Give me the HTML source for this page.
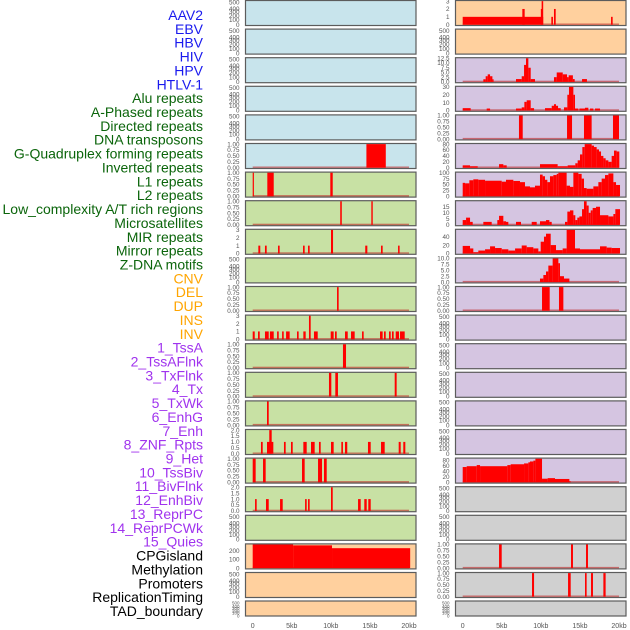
<!DOCTYPE html>
<html><head><meta charset="utf-8">
<style>
html,body{margin:0;padding:0;background:#fff;}
svg{display:block;font-family:"Liberation Sans",sans-serif;}
</style></head>
<body>
<svg id="chart" width="630" height="630" viewBox="0 0 630 630" xmlns="http://www.w3.org/2000/svg"></svg>
<script>
// ---------- data ----------
const labelNames = ["AAV2","EBV","HBV","HIV","HPV","HTLV-1","Alu repeats","A-Phased repeats","Directed repeats","DNA transposons","G-Quadruplex forming repeats","Inverted repeats","L1 repeats","L2 repeats","Low_complexity A/T rich regions","Microsatellites","MIR repeats","Mirror repeats","Z-DNA motifs","CNV","DEL","DUP","INS","INV","1_TssA","2_TssAFlnk","3_TxFlnk","4_Tx","5_TxWk","6_EnhG","7_Enh","8_ZNF_Rpts","9_Het","10_TssBiv","11_BivFlnk","12_EnhBiv","13_ReprPC","14_ReprPCWk","15_Quies","CPGisland","Methylation","Promoters","ReplicationTiming","TAD_boundary"];
const labelGroups = [0,0,0,0,0,0,1,1,1,1,1,1,1,1,1,1,1,1,1,2,2,2,2,2,3,3,3,3,3,3,3,3,3,3,3,3,3,3,3,4,4,4,4,4];
const xTickValues = [0,5,10,15,20];
const xTickLabels = ["0","5kb","10kb","15kb","20kb"];
const ticks01 = [0,0.25,0.5,0.75,1];
const ticks01Labels = ["0.00","0.25","0.50","0.75","1.00"];
const ticks3 = [0,1,2,3];
const ticks2 = [0,0.5,1,1.5,2];
const ticks2Labels = ["0.0","0.5","1.0","1.5","2.0"];
const emptyTickLabels = ["0","100","200","300","400","500"];
const emptyTickFrac = [0,0.2,0.38,0.55,0.68,0.96];

// left column segments [startKb, endKb, value]
const segL5 = [[14.55,17.03,1]];
const segL6 = [[0,0.12,1],[1.87,2.69,1],[9.93,10.24,1]];
const segL7 = [[11.2,11.4,1],[15.18,15.36,1]];
const segL8 = [[0.72,0.97,1],[1.57,1.79,1],[3.24,3.45,1],[6.44,6.65,1],[7.08,7.29,1],[10.02,10.28,3],[14.4,14.67,1],[16.42,16.63,1],[18.6,18.8,1]];
const segL10 = [[10.79,11.0,1]];
const segL11 = [[0,0.26,1],[0.68,0.9,1],[1.57,2.05,1],[2.2,2.69,1],[3.12,3.33,1],[3.76,3.97,1],[4.27,4.73,1],[5.67,5.88,1],[6.48,6.78,1],[7.2,7.42,3],[7.84,8.32,1],[9.98,10.36,1],[10.53,10.75,1],[11.81,12.16,1],[12.58,13.05,1],[13.99,14.2,1],[16.29,16.63,1],[16.8,17.02,1],[17.44,17.66,1],[17.82,18.04,1],[18.3,18.72,1],[18.85,19.45,1]];
const segL12 = [[11.55,11.94,1]];
const segL13 = [[9.76,10.06,1],[10.57,10.91,1],[18.17,18.42,1]];
const segL14 = [[1.83,2.05,1]];
const segL15 = [[1.06,1.28,1],[1.83,2.64,1],[2.12,2.43,2],[4.0,4.22,1],[4.9,5.12,1],[6.48,6.91,1],[7.46,7.93,1],[8.48,8.7,1],[10.02,10.36,1],[11.34,11.55,1],[11.81,12.1,1],[14.75,15.1,1],[16.42,16.89,1],[18.68,18.94,1],[19.27,19.53,1]];
const segL16 = [[0,0.38,1],[1.32,1.66,1],[6.31,6.65,1],[8.36,8.87,1],[9.12,9.47,1]];
const segL17 = [[0.3,0.51,1],[1.7,2.05,1],[3.5,3.84,1],[6.7,6.91,1],[7.08,7.29,1],[10.02,10.24,2],[13.48,13.82,1],[14.28,14.59,1],[14.79,15.1,1]];
const segL19 = [[0,5.17,275],[5.17,10.15,265],[10.15,20.15,232]];

// right column segments
const segR0 = [[0,10.3,1],[7.63,7.93,2],[10.0,10.1,2],[10.1,10.3,3],[11.34,11.55,1],[11.68,11.9,2],[18.98,19.19,1]];
const segR2 = [[2.64,2.94,1.4],[2.94,3.2,3],[3.2,3.5,4],[3.5,3.8,3],[3.8,3.92,1.4],[6.82,7.55,1.5],[7.55,7.85,3],[7.85,8.1,9],[8.1,8.4,12.5],[8.4,8.7,7.5],[8.7,9.25,1.5],[11.68,12.03,2.5],[12.03,12.8,5],[12.8,13.35,4],[13.35,13.56,2.5],[13.56,14.1,3.5],[14.1,14.33,1.5],[15.27,15.9,1.5]];
const segR3 = [[0,1.02,3],[3.07,3.5,2.5],[6.82,7.55,2.5],[7.55,7.89,4],[7.89,8.19,11],[8.19,8.7,13],[8.7,9.13,3],[10.53,11.39,3],[11.39,11.68,6],[11.68,11.94,8],[11.94,12.2,6],[12.2,12.54,3],[12.96,13.39,4],[13.39,13.6,20],[13.6,14.16,30],[14.16,14.37,20],[14.37,14.8,2.5],[14.93,15.65,2.5],[15.65,16.08,3.5],[16.29,16.72,2.5],[16.93,17.57,2.5]];
const segR4 = [[7.2,7.68,1],[13.35,13.99,1],[15.52,16.5,1],[19.23,20.0,1]];
const segR5 = [[0,0.94,8],[0.94,1.92,5],[4.65,5.2,12],[5.2,5.63,8],[9.89,12.15,12],[12.15,13.43,5],[13.43,14.41,8],[14.41,14.71,15],[14.71,15.01,25],[15.01,15.31,45],[15.31,15.61,70],[15.61,16.5,82],[16.5,16.8,75],[16.8,17.14,70],[17.14,17.44,62],[17.44,17.7,55],[17.7,18.0,40],[18.0,18.29,32],[18.29,18.64,25],[18.64,19.06,20],[19.06,19.36,40],[19.36,19.7,58],[19.7,20.04,55]];
const segR6 = [[0,0.3,57],[0.3,0.85,55],[0.85,1.36,68],[1.36,2.0,72],[2.0,2.86,70],[2.86,4.99,66],[4.99,5.54,62],[5.54,6.48,70],[6.48,7.33,65],[7.33,7.97,60],[7.97,8.61,42],[8.61,9.25,38],[9.25,9.89,45],[9.89,10.23,92],[10.23,10.53,85],[10.53,10.83,70],[10.83,11.17,60],[11.17,11.6,85],[11.6,12.03,90],[12.03,12.24,95],[12.24,13.3,100],[13.3,13.73,45],[13.73,14.16,40],[14.16,14.8,100],[14.8,15.22,95],[15.22,15.52,75],[15.52,15.86,35],[15.86,16.72,32],[16.72,17.36,42],[17.36,17.78,60],[17.78,18.21,75],[18.21,18.64,90],[18.64,19.28,97],[19.28,19.62,60],[19.62,20.13,48]];
const segR7 = [[0,0.43,4],[0.43,0.94,6],[0.94,1.28,2.5],[2.64,3.71,2.5],[4.43,4.65,4],[4.65,5.2,7.5],[5.2,5.54,3],[5.54,5.84,2.5],[6.82,7.46,2.5],[8.83,9.47,2.5],[9.89,10.66,3],[10.66,11.09,4],[11.09,11.39,2.5],[13.09,13.39,2.5],[13.39,13.73,11],[13.73,14.16,12],[14.16,14.41,8],[14.41,14.67,4],[14.67,14.93,6],[14.93,15.27,7],[15.27,15.52,13],[15.52,15.86,19.5],[15.86,16.12,16],[16.12,16.38,10],[16.38,16.63,12],[16.63,17.06,14],[17.06,17.57,15],[17.57,18.64,8],[18.64,19.28,7],[19.28,19.53,9],[19.53,20.13,13]];
const segR8 = [[0,0.94,18],[0.94,1.36,12],[1.36,2.0,3],[2.0,2.86,7],[2.86,3.5,10],[3.5,4.14,17],[4.14,4.99,13],[4.99,5.84,10],[5.84,6.7,7],[6.7,7.55,12],[7.55,8.19,19],[8.19,9.04,15],[9.04,9.68,12],[9.68,9.98,5],[9.98,10.4,28],[10.4,10.66,40],[10.66,11.26,47],[11.26,11.94,20],[11.94,12.79,8],[12.79,13.3,12],[13.3,14.37,56],[14.37,15.01,12],[15.01,17.57,10],[17.57,18.42,17],[18.42,19.06,14],[19.06,20.13,13]];
const segR9 = [[9.89,10.32,1.5],[10.32,10.66,3],[10.66,10.96,4.5],[10.96,11.51,7],[11.51,12.24,10],[12.24,12.45,8],[12.45,12.96,2.5],[12.96,13.65,1.5]];
const segR10 = [[10.15,11.13,1],[12.32,12.88,1]];
const segR16 = [[0,0.51,55],[0.51,1.79,58],[1.79,2.22,62],[2.22,5.71,58],[5.71,6.14,62],[6.14,7.85,65],[7.85,8.4,68],[8.4,8.61,72],[8.61,9.04,75],[9.04,9.3,78],[9.3,10.15,85],[10.15,10.87,13],[10.87,11.81,15],[11.81,13.65,12],[13.65,13.73,4]];
const segR19 = [[4.65,4.99,1],[13.86,14.11,1],[15.78,16.03,1]];
const segR20 = [[8.87,9.13,1],[13.48,13.82,1],[15.65,15.86,1],[16.42,16.67,1],[18.0,18.29,1]];

// ---------- panel configuration ----------
const BLUE="#c8e4ec", GREEN="#c8e1a4", ORANGE="#ffd09e", PURPLE="#d5c5e1", GREY="#d0d0d0";
const leftPanels = [
 {bg:BLUE},{bg:BLUE},{bg:BLUE},{bg:BLUE},{bg:BLUE},
 {bg:BLUE,seg:segL5,ymax:1,t:ticks01,tl:ticks01Labels},
 {bg:GREEN,seg:segL6,ymax:1,t:ticks01,tl:ticks01Labels},
 {bg:GREEN,seg:segL7,ymax:1,t:ticks01,tl:ticks01Labels},
 {bg:GREEN,seg:segL8,ymax:3,t:ticks3},
 {bg:GREEN},
 {bg:GREEN,seg:segL10,ymax:1,t:ticks01,tl:ticks01Labels},
 {bg:GREEN,seg:segL11,ymax:3,t:ticks3},
 {bg:GREEN,seg:segL12,ymax:1,t:ticks01,tl:ticks01Labels},
 {bg:GREEN,seg:segL13,ymax:1,t:ticks01,tl:ticks01Labels},
 {bg:GREEN,seg:segL14,ymax:1,t:ticks01,tl:ticks01Labels},
 {bg:GREEN,seg:segL15,ymax:2,t:ticks2,tl:ticks2Labels},
 {bg:GREEN,seg:segL16,ymax:1,t:ticks01,tl:ticks01Labels},
 {bg:GREEN,seg:segL17,ymax:2,t:ticks2,tl:ticks2Labels},
 {bg:GREEN},
 {bg:ORANGE,seg:segL19,ymax:275,t:[0,100,200]},
 {bg:ORANGE},{bg:ORANGE}
];
const rightPanels = [
 {bg:ORANGE,seg:segR0,ymax:3,t:ticks3},
 {bg:ORANGE},
 {bg:PURPLE,seg:segR2,ymax:12.5,t:[0,2.5,5,7.5,10,12.5],tl:["0.0","2.5","5.0","7.5","10.0","12.5"]},
 {bg:PURPLE,seg:segR3,ymax:30,t:[0,10,20,30]},
 {bg:PURPLE,seg:segR4,ymax:1,t:ticks01,tl:ticks01Labels},
 {bg:PURPLE,seg:segR5,ymax:80,t:[0,20,40,60,80]},
 {bg:PURPLE,seg:segR6,ymax:100,t:[0,25,50,75,100]},
 {bg:PURPLE,seg:segR7,ymax:19.5,t:[0,5,10,15]},
 {bg:PURPLE,seg:segR8,ymax:56,t:[0,20,40]},
 {bg:PURPLE,seg:segR9,ymax:10,t:[0,2.5,5,7.5,10],tl:["0.0","2.5","5.0","7.5","10.0"]},
 {bg:PURPLE,seg:segR10,ymax:1,t:ticks01,tl:ticks01Labels},
 {bg:PURPLE},{bg:PURPLE},{bg:PURPLE},{bg:PURPLE},{bg:PURPLE},
 {bg:PURPLE,seg:segR16,ymax:85,t:[0,20,40,60,80]},
 {bg:GREY},{bg:GREY},
 {bg:GREY,seg:segR19,ymax:1,t:ticks01,tl:ticks01Labels},
 {bg:GREY,seg:segR20,ymax:1,t:ticks01,tl:ticks01Labels},
 {bg:GREY}
];

// ---------- drawing ----------
const NS="http://www.w3.org/2000/svg";
const svg=document.getElementById('chart');
function mk(tag,attrs,parent){const e=document.createElementNS(NS,tag);for(const k in attrs)e.setAttribute(k,attrs[k]);(parent||svg).appendChild(e);return e;}

// labels
const groupColors=["#1a1aee","#0b650b","#ffa500","#a033ee","#000000"];
labelNames.forEach((name,i)=>{
  const t=mk('text',{x:203,y:20+13.86*i,'text-anchor':'end','font-size':'14',fill:groupColors[labelGroups[i]]});
  t.textContent=name;
  
  
});

function rowTop(i){return i<21?0.5+28.6*i:601;}
function rowH(i){return i<21?25:15;}

function drawPanel(p,i,side,pl){
  const top=rowTop(i),h=rowH(i),w=170.5;
  const g=mk('g',{});
  
  
  const r=mk('rect',{x:pl,y:top,width:w,height:h,fill:p.bg,stroke:'#5c5c5c','stroke-width':1.2},g);
  
  
  const x0=pl+7.2, xs=156.3/20;
  const xScale=kb=>x0+kb*xs;
  const y0=top+h-0.8, yTop=top+0.6;
  const ymax=p.ymax||1;
  const yScale=v=>y0-(Math.min(v,ymax)/ymax)*(y0-yTop);
  // ticks
  if(p.seg){
    p.t.forEach((tv,k)=>{
      const tt=mk('text',{x:pl-6,y:yScale(tv)+2.2,'text-anchor':'end','font-size':'6.3',fill:'#555'},g);
      tt.textContent=p.tl?p.tl[k]:String(tv);
      
      
    });
    const bl=mk('rect',{x:xScale(0),y:y0-1.2,width:xScale(20)-xScale(0),height:1.4,fill:'rgba(190,40,40,0.6)'},g);
    
    
    p.seg.forEach(s=>{
      const x1=xScale(s[0]),x2=xScale(s[1]);
      const yv=yScale(s[2]);
      const b=mk('rect',{x:x1,y:yv,width:Math.max(1.2,x2-x1),height:Math.max(0,y0-yv),fill:'#ff0000'},g);
      
      
    });
  } else {
    emptyTickLabels.forEach((lab,k)=>{
      const yy=top+h-0.8-emptyTickFrac[k]*(h-1.5);
      const tt=mk('text',{x:pl-6,y:yy+2.2,'text-anchor':'end','font-size':h<20?'4.5':'6.3',fill:'#555'},g);
      tt.textContent=lab;
      
      
    });
  }
}
leftPanels.forEach((p,i)=>drawPanel(p,i,'left',245.5));
rightPanels.forEach((p,i)=>drawPanel(p,i,'right',455.5));

// x axes
[245.5,455.5].forEach((pl,c)=>{
  xTickValues.forEach((v,k)=>{
    const t=mk('text',{x:pl+7.2+v*156.3/20,y:628,'text-anchor':'middle','font-size':'7',fill:'#555'});
    t.textContent=xTickLabels[k];
    
    
  });
});
</script>
</body></html>
